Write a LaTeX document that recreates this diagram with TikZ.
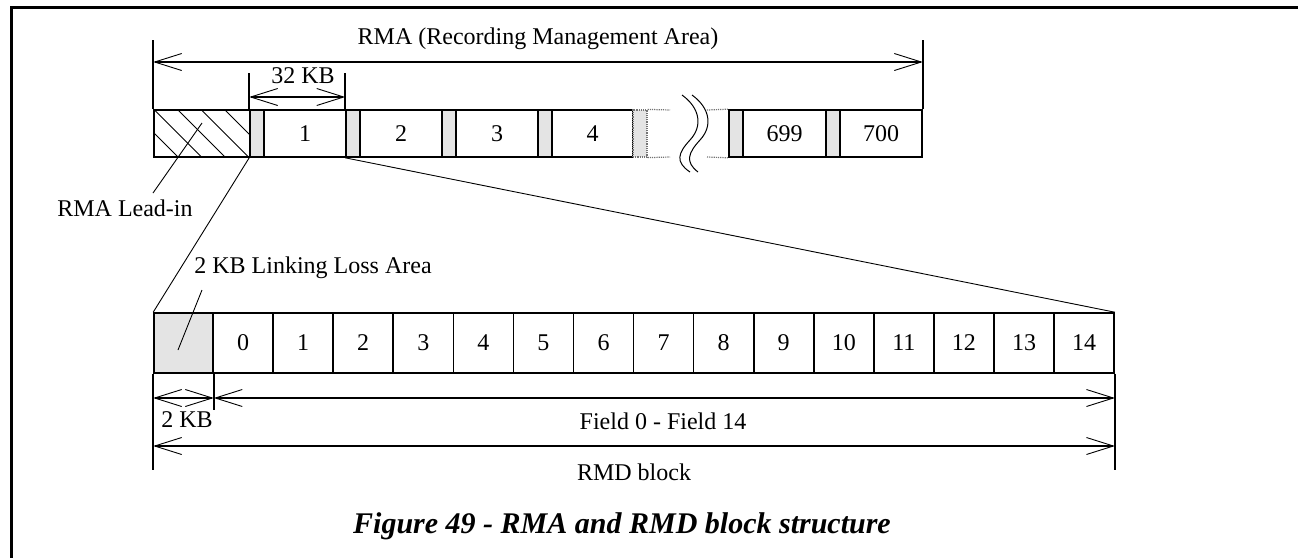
\documentclass[tikz,border=0pt]{standalone}
\usepackage{fontspec}
\setmainfont{Liberation Serif}
\usetikzlibrary{arrows.meta}
\definecolor{gfill}{HTML}{E4E4E4}
\begin{document}
\begin{tikzpicture}[x=1pt,y=-1pt,
 txt/.style={font=\fontsize{24}{28}\selectfont,inner sep=0pt},
 cellbox/.style={draw,line width=1.6pt,inner sep=0pt,minimum height=47pt,txt},
 gapcell/.style={cellbox,fill=gfill,minimum width=14pt},
 dotcell/.style={draw=black!55,densely dotted,line width=1.2pt,fill=gfill,inner sep=0pt,minimum width=14pt,minimum height=47pt},
 fieldbox/.style={draw,line width=1.6pt,inner sep=0pt,minimum width=60.07pt,minimum height=60pt,txt},
 dimarrow/.style={line width=1.4pt,{Straight Barb[length=27pt,width=17pt,line width=0.9pt]}-{Straight Barb[length=27pt,width=17pt,line width=0.9pt]}},
 extline/.style={line width=1.6pt},
 leader/.style={line width=0.9pt},
 dotline/.style={draw=black!55,densely dotted,line width=1.2pt},
 breakline/.style={line width=1pt}
]
\useasboundingbox (0,0) rectangle (1298,558);
% frame
\draw[line width=3pt] (1298,7.5) -- (11.3,7.5) -- (11.3,558);

% upper bar
\node[cellbox,minimum width=96pt] (leadin) at (202,133.5) {};
\begin{scope}
\clip (leadin.north west) rectangle (leadin.south east);
\foreach \x in {84,107.5,131,154.5,178,201.5,225,248.5}
  \draw[line width=0.9pt] (\x,110) -- ++(47,47);
\end{scope}
\node[cellbox,minimum width=82pt] (b1) at (305,133.5) {1};
\node[cellbox,minimum width=82pt] (b2) at (401,133.5) {2};
\node[cellbox,minimum width=82pt] (b3) at (497,133.5) {3};
\node[cellbox,minimum width=81pt] (b4) at (592.5,133.5) {4};
\node[cellbox,minimum width=83pt] (b699) at (784.5,133.5) {699};
\node[cellbox,minimum width=82pt] (b700) at (881,133.5) {700};
\node[gapcell] (g1) at (257,133.5) {};
\node[gapcell] (g2) at (353,133.5) {};
\node[gapcell] (g3) at (449,133.5) {};
\node[gapcell] (g4) at (545,133.5) {};
\node[dotcell] (gd) at (640,133.5) {};
\node[gapcell] (g699) at (736,133.5) {};
\node[gapcell] (g700) at (833,133.5) {};

% break
\coordinate (bk1t) at (670,110);
\coordinate (bk1b) at (670,157);
\coordinate (bk2t) at (707,110);
\coordinate (bk2b) at (707,157);
\draw[dotline] (gd.north east) -- (bk1t);
\draw[dotline] (gd.south east) -- (bk1b);
\draw[dotline] (bk2t) -- (g699.north west);
\draw[dotline] (bk2b) -- (g699.south west);
\draw[breakline] (682,95) .. controls (700,108) and (703,126) .. (690,140) .. controls (678,153) and (675,162) .. (690,172);
\draw[breakline] (692,95) .. controls (710,108) and (713,126) .. (700,140) .. controls (688,153) and (685,162) .. (698,172);

% dimension levels
\coordinate (yA) at (0,40);
\coordinate (yB) at (0,62);
\coordinate (yC) at (0,73);
\coordinate (yD) at (0,97);
\coordinate (yE) at (0,410);
\coordinate (yF) at (0,470);
\coordinate (yG) at (0,398);
\coordinate (yH) at (0,446);

% RMA dimension
\draw[extline] (leadin.north west) -- (leadin.north west |- yA);
\draw[extline] (b700.north east) -- (b700.north east |- yA);
\draw[dimarrow] (leadin.north west |- yB) -- (b700.north east |- yB);
\node[txt,anchor=base] (rmalbl) at (538,44) {RMA (Recording Management Area)};

% 32 KB dimension
\draw[extline] (g1.north west) -- (g1.north west |- yC);
\draw[extline] (g2.north west) -- (g2.north west |- yC);
\draw[dimarrow] (g1.north west |- yD) -- (g2.north west |- yD);
\node[txt,anchor=base] (kb32) at (303,83) {32 KB};

% lower block
\node[fieldbox,fill=gfill,minimum width=59pt] (ll) at (183.5,343) {};
\foreach \i in {0,...,14}
  \node[fieldbox] (f\i) at ({243.1+60.07*\i},343) {\i};

% zoom lines
\draw[leader] (g1.south west) -- (ll.north west);
\draw[leader] (g2.south west) -- (f14.north east);

% labels with leaders
\node[txt] (leadlbl) at (125,208) {RMA Lead-in};
\coordinate (leadfoot) at (153,193);
\coordinate (leadpt) at (202,123);
\draw[leader] (leadfoot) -- (leadpt);
\node[txt] (lllbl) at (313,268) {2 KB Linking Loss Area};
\coordinate (llfoot) at (202,290);
\coordinate (llpt) at (178,350);
\draw[leader] (llfoot) -- (llpt);

% lower dimensions
\draw[extline] (ll.south west) -- (ll.south west |- yF);
\draw[extline] (ll.south east) -- (ll.south east |- yE);
\draw[extline] (f14.south east) -- (f14.south east |- yF);
\draw[dimarrow] (ll.south west |- yG) -- (ll.south east |- yG);
\draw[dimarrow] (ll.south east |- yG) -- (f14.south east |- yG);
\draw[dimarrow] (ll.south west |- yH) -- (f14.south east |- yH);
\node[txt,anchor=base] (kb2) at (187,427) {2 KB};
\node[txt] (fieldlbl) at (663,421) {Field 0 - Field 14};
\node[txt] (rmdlbl) at (634,472) {RMD block};

% caption
\node[font=\fontsize{30}{34}\selectfont\bfseries\itshape,inner sep=0pt,anchor=base] (cap) at (622,533) {Figure 49 - RMA and RMD block structure};
\end{tikzpicture}
\end{document}
